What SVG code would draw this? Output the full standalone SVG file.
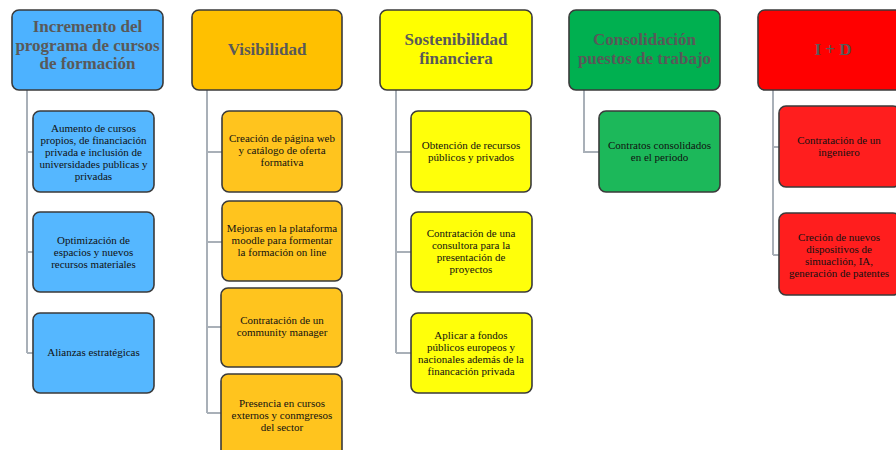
<svg xmlns="http://www.w3.org/2000/svg" width="896" height="450" viewBox="0 0 896 450">
<style>
.box{stroke:#3a3a3a;stroke-width:1.6}
.h{font-family:"Liberation Serif","DejaVu Serif",serif;font-weight:bold;font-size:17px;fill:#595959;text-anchor:middle}
.c{font-family:"Liberation Serif","DejaVu Serif",serif;font-size:11px;fill:#111111;text-anchor:middle}
.ln{stroke:#A9B0B8;stroke-width:2;fill:none}
.blue-h{fill:#4DB2FF}.blue-c{fill:#55B7FF}
.or-h{fill:#FFC000}.or-c{fill:#FFC41E}
.ye-h{fill:#FFFF00}.ye-c{fill:#FFFF0A}
.gr-h{fill:#00B050}.gr-c{fill:#1CB85A}
.rd-h{fill:#FF0000}.rd-c{fill:#FF1E1E}
</style>
<rect width="896" height="450" fill="#ffffff"/>
<g id="connectors">
<path class="ln" d="M27,90 V353 M27,152 H33 M27,252 H33 M27,353 H33"/>
<path class="ln" d="M207,90 V413 M207,152 H222 M207,242 H222 M207,327 H222 M207,413 H222"/>
<path class="ln" d="M396,90 V353 M396,152 H411 M396,252 H411 M396,353 H411"/>
<path class="ln" d="M584,90 V152 H599"/>
<path class="ln" d="M773,90 V255 M773,147 H779 M773,255 H779"/>
</g>
<g id="h1"><rect class="box blue-h" x="12" y="10" width="151" height="80" rx="7"/>
<text class="h" x="87.5" y="32">Incremento del</text><text class="h" x="87.5" y="51">programa de cursos</text><text class="h" x="87.5" y="69">de formación</text></g>
<g id="b1"><rect class="box blue-c" x="33" y="111" width="121" height="81" rx="7"/>
<text class="c" x="93.5" y="132">Aumento de cursos</text><text class="c" x="93.5" y="144">propios, de financiación</text><text class="c" x="93.5" y="156">privada e inclusión de</text><text class="c" x="93.5" y="168">universidades publicas y</text><text class="c" x="93.5" y="180">privadas</text></g>
<g id="b2"><rect class="box blue-c" x="33" y="212" width="121" height="80" rx="7"/>
<text class="c" x="93.5" y="244">Optimización de</text><text class="c" x="93.5" y="256">espacios y nuevos</text><text class="c" x="93.5" y="268">recursos materiales</text></g>
<g id="b3"><rect class="box blue-c" x="33" y="313" width="121" height="80" rx="7"/>
<text class="c" x="93.5" y="356">Alianzas estratégicas</text></g>

<g id="h2"><rect class="box or-h" x="192" y="10" width="150" height="80" rx="7"/>
<text class="h" x="267" y="55">Visibilidad</text></g>
<g id="o1"><rect class="box or-c" x="222" y="111" width="120" height="81" rx="7"/>
<text class="c" x="282" y="142">Creación de página web</text><text class="c" x="282" y="154">y catálogo de oferta</text><text class="c" x="282" y="166">formativa</text></g>
<g id="o2"><rect class="box or-c" x="222" y="201" width="120" height="80" rx="7"/>
<text class="c" x="282" y="232">Mejoras en la plataforma</text><text class="c" x="282" y="244">moodle para formentar</text><text class="c" x="282" y="256">la formación on line</text></g>
<g id="o3"><rect class="box or-c" x="221" y="288" width="121" height="79" rx="7"/>
<text class="c" x="282" y="324">Contratación de un</text><text class="c" x="282" y="336">community manager</text></g>
<g id="o4"><rect class="box or-c" x="221" y="374" width="121" height="90" rx="7"/>
<text class="c" x="282" y="407">Presencia en cursos</text><text class="c" x="282" y="419">externos y conmgresos</text><text class="c" x="282" y="431">del sector</text></g>

<g id="h3"><rect class="box ye-h" x="380" y="10" width="152" height="80" rx="7"/>
<text class="h" x="456" y="45">Sostenibilidad</text><text class="h" x="456" y="64">financiera</text></g>
<g id="y1"><rect class="box ye-c" x="411" y="111" width="120" height="81" rx="7"/>
<text class="c" x="471" y="149">Obtención de recursos</text><text class="c" x="471" y="161">públicos y privados</text></g>
<g id="y2"><rect class="box ye-c" x="411" y="212" width="121" height="80" rx="7"/>
<text class="c" x="471" y="237">Contratación de una</text><text class="c" x="471" y="249">consultora para la</text><text class="c" x="471" y="261">presentación de</text><text class="c" x="471" y="273">proyectos</text></g>
<g id="y3"><rect class="box ye-c" x="411" y="313" width="121" height="80" rx="7"/>
<text class="c" x="471" y="339">Aplicar a fondos</text><text class="c" x="471" y="351">públicos europeos y</text><text class="c" x="471" y="363">nacionales además de la</text><text class="c" x="471" y="375">financación privada</text></g>

<g id="h4"><rect class="box gr-h" x="569" y="10" width="151" height="80" rx="7"/>
<text class="h" x="644.5" y="45">Consolidación</text><text class="h" x="644.5" y="64">puestos de trabajo</text></g>
<g id="g1"><rect class="box gr-c" x="599" y="111" width="121" height="81" rx="7"/>
<text class="c" x="659.5" y="149">Contratos consolidados</text><text class="c" x="659.5" y="161">en el periodo</text></g>

<g id="h5"><rect class="box rd-h" x="758" y="10" width="150" height="80" rx="7"/>
<text class="h" x="833" y="55">I + D</text></g>
<g id="r1"><rect class="box rd-c" x="779" y="106" width="121" height="81" rx="7"/>
<text class="c" x="839" y="144">Contratación de un</text><text class="c" x="839" y="156">ingeniero</text></g>
<g id="r2"><rect class="box rd-c" x="779" y="213" width="121" height="82" rx="7"/>
<text class="c" x="839" y="241">Creción de nuevos</text><text class="c" x="839" y="253">dispositivos de</text><text class="c" x="839" y="265">simuaclión, IA,</text><text class="c" x="839" y="277">generación de patentes</text></g>
</svg>
